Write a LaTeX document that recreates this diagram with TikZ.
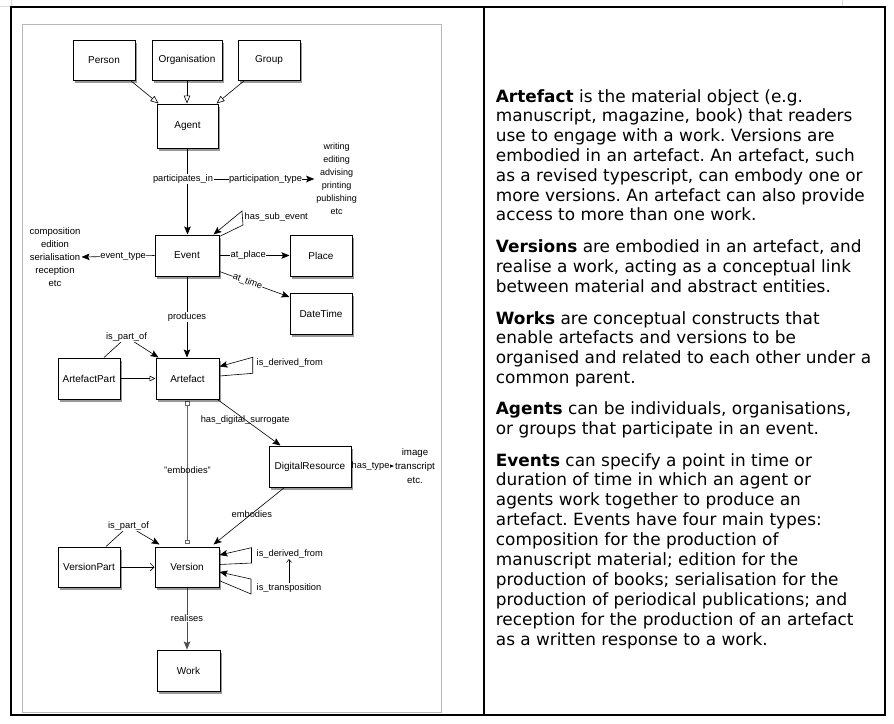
\documentclass[tikz,border=0pt]{standalone}
\usepackage{fontspec}
\setmainfont{Liberation Sans}
\newfontfamily\dvs{DejaVu Sans}
\usetikzlibrary{arrows.meta,shadows,calc}
\pgfdeclarelayer{bg}
\pgfsetlayers{bg,main}
\frenchspacing
\tikzset{
  box/.style={draw, line width=1pt, fill=white, minimum height=41pt, inner sep=0pt,
    font=\fontsize{10}{12}\selectfont,
    drop shadow={shadow xshift=2pt, shadow yshift=-3pt, opacity=0.4, fill=black}},
  conn/.style={line width=0.6pt},
  fa/.style={conn, -{Stealth[length=8pt,width=6.5pt,inset=1.5pt]}},
  gen/.style={conn, -{Triangle[open,length=8pt,width=6.5pt]}},
  gensmall/.style={conn, -{Triangle[open,length=6pt,width=5.5pt]}},
  openv/.style={conn, -{Straight Barb[length=4pt,width=8pt]}},
  emb/.style={conn, draw=black!60, {Square[open,length=4.5pt,width=4.5pt]}-{Square[open,length=4.5pt,width=4.5pt]}, shorten <=1.5pt, shorten >=2.5pt},
  lbl/.style={font=\fontsize{9.3}{11}\selectfont, fill=white, inner sep=0.5pt},
  nlbl/.style={font=\fontsize{9.3}{11}\selectfont, inner sep=0.5pt},
  lst/.style={align=center, inner sep=1pt},
  txt/.style={anchor=base west, inner sep=0pt, font=\dvs\fontsize{16.9}{20}\selectfont},
}
\begin{document}
\begin{tikzpicture}[x=1pt,y=-1pt]
\useasboundingbox (0,0) rectangle (894,723);
% page marks and frames
\draw[black!15, line width=0.8pt] (0,6) -- (11,6) -- (11,0);
\draw[black!15, line width=0.8pt] (842,0) -- (842,6) -- (862,6);
\draw[line width=1.3pt] (11,7) rectangle (885,715);
\draw[line width=1.3pt] (484,7) -- (484,715);
\draw[black!28, line width=1pt] (22,24) rectangle (441,712);

% boxes
\node[box, minimum width=62pt, minimum height=40pt] (person) at (104,60) {Person};
\node[box, minimum width=70pt, minimum height=40pt] (org) at (187,60) {Organisation};
\node[box, minimum width=62pt, minimum height=40pt] (group) at (269,60) {Group};
\node[box, minimum width=61pt, minimum height=44pt] (agent) at (187.5,126) {Agent};
\node[box, minimum width=64pt] (event) at (187,255.5) {Event};
\node[box, minimum width=62pt] (place) at (321,255.5) {Place};
\node[box, minimum width=62pt] (datetime) at (321,313.5) {DateTime};
\node[box, minimum width=63pt] (artefact) at (187.5,378.5) {Artefact};
\node[box, minimum width=62pt] (artefactpart) at (89,378.5) {ArtefactPart};
\node[box, minimum width=82pt] (digital) at (310,466.5) {DigitalResource};
\node[box, minimum width=64pt, minimum height=40pt] (version) at (187,567) {Version};
\node[box, minimum width=62pt, minimum height=40pt] (versionpart) at (89,567) {VersionPart};
\node[box, minimum width=63pt] (work) at (188.5,670.5) {Work};

% value lists
\node[lst, font=\fontsize{9}{12.9}\selectfont] (ptypes) at (336.7,179) {writing\\editing\\advising\\printing\\publishing\\etc};
\node[lst, font=\fontsize{9.5}{13}\selectfont] (etypes) at (55,257) {composition\\edition\\serialisation\\reception\\etc};
\node[lst, font=\fontsize{9.7}{14}\selectfont] (dtypes) at (415,466) {image\\transcript\\etc.};

% free labels
\node[lbl] (partin) at (183,179) {participates\_in};
\node[lbl] (parttype) at (265.5,179) {participation\_type};
\node[lbl] (ipoa) at (126.5,337) {is\_part\_of};
\node[lbl] (ipov) at (128.5,526) {is\_part\_of};
\node[lbl, anchor=west] (hse) at (244,217) {has\_sub\_event};
\node[lbl, anchor=west] (idfa) at (256,363.5) {is\_derived\_from};
\node[lbl, anchor=west] (idfv) at (256,554) {is\_derived\_from};
\node[lbl, anchor=west] (itr) at (256,588) {is\_transposition};

% loop corners
\coordinate (hse1) at (243,225);
\coordinate (hse2) at (242,211);
\coordinate (la1) at (252.7,373.3);
\coordinate (la2) at (252.7,357.3);
\coordinate (lv1) at (251.5,563);
\coordinate (lv2) at (251.5,547.7);
\coordinate (lt1) at (251,594);
\coordinate (lt2) at (251,579);

\begin{pgfonlayer}{bg}
\draw[gen] ([xshift=-5pt]person.south east) -- ([xshift=2pt]agent.north west);
\draw[gen] (org.south) -- (org.south |- agent.north);
\draw[gen] ([xshift=7pt]group.south west) -- ([xshift=-2pt]agent.north east);
\draw[fa] (agent.south) -- (agent.south |- event.north);
\draw[fa, shorten >=1pt] (partin.east) -- (ptypes.west);
\draw[fa] ([yshift=-2pt]event.north east) -- (hse1) -- (hse2) -- ([xshift=-6pt]event.north east);
\draw[fa] (event.west) -- (etypes.east) node[lbl, pos=0.43] {event\_type};
\draw[fa] (event.east) -- (place.west) node[lbl, pos=0.41] {at\_place};
\draw[fa] ([yshift=5pt]event.south east) -- ([yshift=-4.5pt]datetime.north west) node[lbl, sloped, pos=0.4] {at\_time};
\draw[fa] (event.south) -- (event.south |- artefact.north) node[lbl, pos=0.5] {produces};
\draw[gensmall] (artefactpart.east) -- (artefact.west);
\draw[fa] ([xshift=15pt]artefactpart.north) -- (ipoa.center) -- ([xshift=3pt]artefact.north west);
\draw[fa] ([yshift=2.5pt]artefact.east) -- (la1) -- (la2) -- ([yshift=12pt]artefact.east);
\draw[emb] (artefact.south) -- (artefact.south |- version.north) node[nlbl, pos=0.48] {"embodies"};
\draw[fa] ([xshift=-2pt]artefact.south east) -- ([xshift=12pt]digital.north west) node[nlbl, pos=0.44] {has\_digital\_surrogate};
\draw[fa] (digital.east) -- (dtypes.west) node[lbl, pos=0.45] {has\_type};
\draw[fa] ([xshift=16pt]digital.south west) -- ([xshift=-6pt,yshift=2pt]version.north east) node[nlbl, pos=0.46] {embodies};
\draw[fa] ([xshift=17pt]versionpart.north) -- (ipov.center) -- ([xshift=5pt,yshift=2pt]version.north west);
\draw[openv] (versionpart.east) -- (version.west);
\draw[fa] ([yshift=2.5pt]version.east) -- (lv1) -- (lv2) -- ([yshift=12pt]version.east);
\draw[fa] ([yshift=-13.7pt]version.east) -- (lt1) -- (lt2) -- ([yshift=-5pt]version.east);
\draw[conn, -{Straight Barb[length=3pt,width=5pt]}] ([xshift=33pt]itr.north west) -- ([xshift=33pt]idfv.south west);
\draw[fa, draw=black!70] (version.south) -- (version.south |- work.north) node[lbl, pos=0.5] {realises};
\end{pgfonlayer}

% description text
\node[txt] (t1) at (495.7,102) {\textbf{Artefact} is the material object (e.g.};
\node[txt] (t2) at (495.7,121.8) {manuscript, magazine, book) that readers};
\node[txt] (t3) at (495.7,141.6) {use to engage with a work. Versions are};
\node[txt] (t4) at (495.7,161.4) {embodied in an artefact. An artefact, such};
\node[txt] (t5) at (495.7,181.2) {as a revised typescript, can embody one or};
\node[txt] (t6) at (495.7,201) {more versions. An artefact can also provide};
\node[txt] (t7) at (495.7,220.8) {access to more than one work.};
\node[txt] (t8) at (495.7,252) {\textbf{Versions} are embodied in an artefact, and};
\node[txt] (t9) at (495.7,272) {realise a work, acting as a conceptual link};
\node[txt] (t10) at (495.7,292) {between material and abstract entities.};
\node[txt] (t11) at (495.7,324) {\textbf{Works} are conceptual constructs that};
\node[txt] (t12) at (495.7,343.8) {enable artefacts and versions to be};
\node[txt] (t13) at (495.7,363.6) {organised and related to each other under a};
\node[txt] (t14) at (495.7,383.4) {common parent.};
\node[txt] (t15) at (495.7,414.3) {\textbf{Agents} can be individuals, organisations,};
\node[txt] (t16) at (495.7,434.3) {or groups that participate in an event.};
\node[txt] (t17) at (495.7,466) {\textbf{Events} can specify a point in time or};
\node[txt] (t18) at (495.7,485.9) {duration of time in which an agent or};
\node[txt] (t19) at (495.7,505.8) {agents work together to produce an};
\node[txt] (t20) at (495.7,525.8) {artefact. Events have four main types:};
\node[txt] (t21) at (495.7,545.7) {composition for the production of};
\node[txt] (t22) at (495.7,565.6) {manuscript material; edition for the};
\node[txt] (t23) at (495.7,585.5) {production of books; serialisation for the};
\node[txt] (t24) at (495.7,605.4) {production of periodical publications; and};
\node[txt] (t25) at (495.7,625.4) {reception for the production of an artefact};
\node[txt] (t26) at (495.7,645.3) {as a written response to a work.};
\end{tikzpicture}
\end{document}
